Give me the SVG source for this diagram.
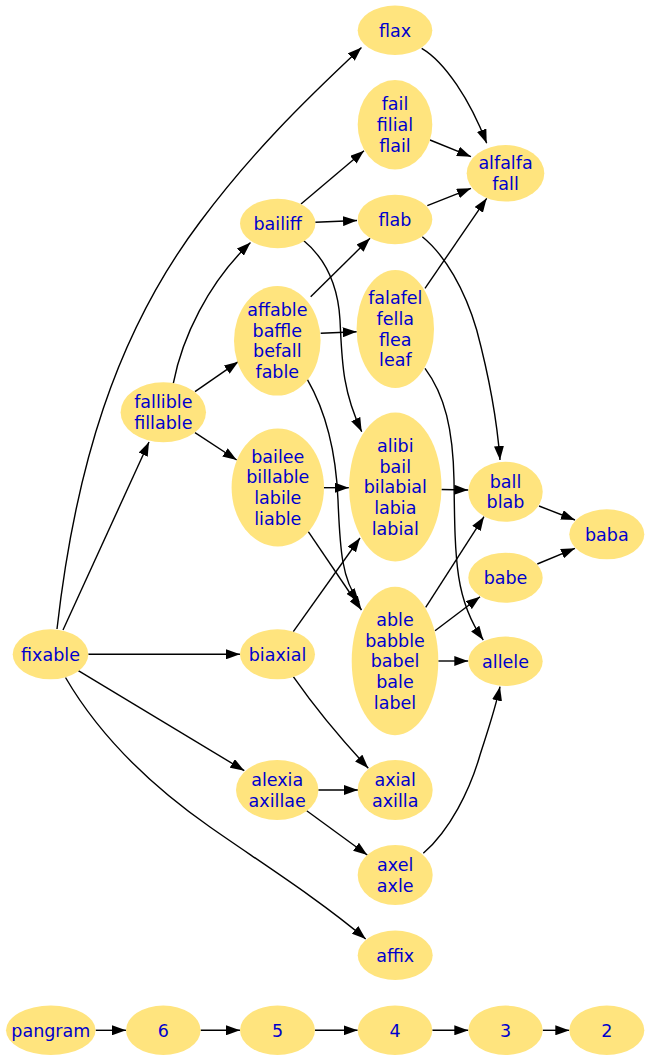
<svg xmlns="http://www.w3.org/2000/svg" width="650" height="1061" viewBox="0 0 650 1061">
<style>
.n ellipse{fill:#ffe47e;stroke:none}
.n text{font-family:"DejaVu Sans",sans-serif;font-size:17.5px;fill:#0000cd;text-anchor:middle}
#edges path{fill:none;stroke:#000;stroke-width:1.4;marker-end:url(#ah)}
</style>
<defs>
<marker id="ah" markerUnits="userSpaceOnUse" markerWidth="14" markerHeight="10" refX="14" refY="5" orient="auto" viewBox="0 0 14 10">
<path d="M0,0 L14,5 L0,10 z" fill="#000"/>
</marker>
</defs>
<rect width="650" height="1061" fill="#fff"/>
<g id="edges">
<path d="M57,629 C75,470 115,335 200,222 C250,155 300,105 361.5,47.5"/>
<path d="M63,630 L149,442"/>
<path d="M88.3,654.3 L240,654.3"/>
<path d="M78.3,670.7 L244.3,770.7"/>
<path d="M65.5,677.5 C95,728 140,778 210,827 C260,862 320,900 365.7,939"/>
<path d="M173.3,383.3 C182,338 208,283 250.5,242.5"/>
<path d="M195,391.7 L238.3,361.7"/>
<path d="M195,432.7 L236.7,460"/>
<path d="M301,204 L364,150.7"/>
<path d="M315.3,222.3 L357,220.5"/>
<path d="M303,240 C325,258 338,285 340,320 C342,360 342,390 361.7,431.7"/>
<path d="M310.7,296.7 L370,238.3"/>
<path d="M320.7,333.3 L356.7,331.7"/>
<path d="M307.3,379.3 C325,410 336,450 338,500 C340,550 342,580 359,602"/>
<path d="M324,487.7 L348.8,487.7"/>
<path d="M308.3,531.7 L361.5,610"/>
<path d="M293.3,631.7 L360,538"/>
<path d="M293.3,676.7 Q325,722 368.3,768.3"/>
<path d="M318.3,790 L358,790"/>
<path d="M306.7,810.7 L367.3,855"/>
<path d="M421.7,48.3 C445,62 470,100 486.7,143.3"/>
<path d="M430,140 L471,156.7"/>
<path d="M427.3,205.7 L471,188.3"/>
<path d="M422.3,236.7 C445,255 465,290 476.7,330 C490,380 497,420 500,460"/>
<path d="M425,288.3 L486.7,198.3"/>
<path d="M425,368.3 C445,395 453,430 454,480 C455,560 455,600 483.3,640"/>
<path d="M441.5,489.5 L468.3,490"/>
<path d="M425.7,607.3 L484,516.7"/>
<path d="M435,630.7 L480,596.7"/>
<path d="M438.3,661 L468.3,661"/>
<path d="M423.3,853.3 C450,830 470,790 480,755 C488,730 495,710 500,686.7"/>
<path d="M539,506 L575,520"/>
<path d="M537.3,564 L575,548.3"/>
<path d="M95.6,1030.3 L126,1030.3"/>
<path d="M200.6,1030.3 L240,1030.3"/>
<path d="M315,1030.3 L357.7,1030.3"/>
<path d="M432.3,1030.3 L468.3,1030.3"/>
<path d="M542.7,1030.3 L569.3,1030.3"/>
</g>
<g id="fixable" class="n"><ellipse cx="50.5" cy="654.3" rx="37.8" ry="25"/><text x="50.5" y="660.5">fixable</text></g>
<g id="fallible" class="n"><ellipse cx="163.3" cy="412.3" rx="42.7" ry="30"/><text x="163.3" y="408.2">fallible</text><text x="163.3" y="428.9">fillable</text></g>
<g id="bailiff" class="n"><ellipse cx="277.7" cy="223.5" rx="37.7" ry="24.7"/><text x="277.7" y="229.7">bailiff</text></g>
<g id="affable" class="n"><ellipse cx="277.3" cy="340.8" rx="43.3" ry="54.8"/><text x="277.3" y="316">affable</text><text x="277.3" y="336.7">baffle</text><text x="277.3" y="357.4">befall</text><text x="277.3" y="378.1">fable</text></g>
<g id="bailee" class="n"><ellipse cx="277.8" cy="487.5" rx="46.2" ry="59"/><text x="277.8" y="462.7">bailee</text><text x="277.8" y="483.4">billable</text><text x="277.8" y="504.1">labile</text><text x="277.8" y="524.8">liable</text></g>
<g id="biaxial" class="n"><ellipse cx="277.5" cy="654.3" rx="37.5" ry="25"/><text x="277.5" y="660.5">biaxial</text></g>
<g id="alexia" class="n"><ellipse cx="277.2" cy="790" rx="41.2" ry="30"/><text x="277.2" y="785.9">alexia</text><text x="277.2" y="806.6">axillae</text></g>
<g id="flax" class="n"><ellipse cx="395" cy="30.3" rx="37.3" ry="24.7"/><text x="395" y="36.5">flax</text></g>
<g id="fail" class="n"><ellipse cx="395" cy="124.7" rx="37.3" ry="44.7"/><text x="395" y="110.2">fail</text><text x="395" y="130.9">filial</text><text x="395" y="151.6">flail</text></g>
<g id="flab" class="n"><ellipse cx="395" cy="219.5" rx="37.3" ry="24.7"/><text x="395" y="225.7">flab</text></g>
<g id="falafel" class="n"><ellipse cx="395.3" cy="329" rx="38.7" ry="59"/><text x="395.3" y="304.2">falafel</text><text x="395.3" y="324.9">fella</text><text x="395.3" y="345.6">flea</text><text x="395.3" y="366.3">leaf</text></g>
<g id="alibi" class="n"><ellipse cx="395.3" cy="487" rx="46.2" ry="74.5"/><text x="395.3" y="451.8">alibi</text><text x="395.3" y="472.5">bail</text><text x="395.3" y="493.2">bilabial</text><text x="395.3" y="513.9">labia</text><text x="395.3" y="534.6">labial</text></g>
<g id="able" class="n"><ellipse cx="395" cy="661" rx="43.3" ry="74.2"/><text x="395" y="625.8">able</text><text x="395" y="646.5">babble</text><text x="395" y="667.2">babel</text><text x="395" y="687.9">bale</text><text x="395" y="708.6">label</text></g>
<g id="axial" class="n"><ellipse cx="395.2" cy="790" rx="37.5" ry="30"/><text x="395.2" y="785.9">axial</text><text x="395.2" y="806.6">axilla</text></g>
<g id="axel" class="n"><ellipse cx="395.2" cy="875" rx="37.5" ry="30"/><text x="395.2" y="870.9">axel</text><text x="395.2" y="891.6">axle</text></g>
<g id="affix" class="n"><ellipse cx="395.2" cy="955.3" rx="37.5" ry="24.7"/><text x="395.2" y="961.5">affix</text></g>
<g id="alfalfa" class="n"><ellipse cx="505.5" cy="173.3" rx="38.8" ry="28.3"/><text x="505.5" y="169.2">alfalfa</text><text x="505.5" y="189.9">fall</text></g>
<g id="ball" class="n"><ellipse cx="505.5" cy="491.7" rx="37.2" ry="30"/><text x="505.5" y="487.6">ball</text><text x="505.5" y="508.3">blab</text></g>
<g id="babe" class="n"><ellipse cx="505.5" cy="577.7" rx="37.2" ry="25"/><text x="505.5" y="583.9">babe</text></g>
<g id="allele" class="n"><ellipse cx="505.5" cy="661.3" rx="37.2" ry="24.7"/><text x="505.5" y="667.5">allele</text></g>
<g id="baba" class="n"><ellipse cx="606.8" cy="534.3" rx="37.5" ry="25"/><text x="606.8" y="540.5">baba</text></g>
<g id="pangram" class="n"><ellipse cx="50.8" cy="1030.3" rx="44.8" ry="24.7"/><text x="50.8" y="1036.5">pangram</text></g>
<g id="n6" class="n"><ellipse cx="163.3" cy="1030.3" rx="37.3" ry="24.7"/><text x="163.3" y="1036.5">6</text></g>
<g id="n5" class="n"><ellipse cx="277.5" cy="1030.3" rx="37.5" ry="24.7"/><text x="277.5" y="1036.5">5</text></g>
<g id="n4" class="n"><ellipse cx="395" cy="1030.3" rx="37.3" ry="24.7"/><text x="395" y="1036.5">4</text></g>
<g id="n3" class="n"><ellipse cx="505.5" cy="1030.3" rx="37.2" ry="24.7"/><text x="505.5" y="1036.5">3</text></g>
<g id="n2" class="n"><ellipse cx="606.8" cy="1030.3" rx="37.5" ry="24.7"/><text x="606.8" y="1036.5">2</text></g>
</svg>
